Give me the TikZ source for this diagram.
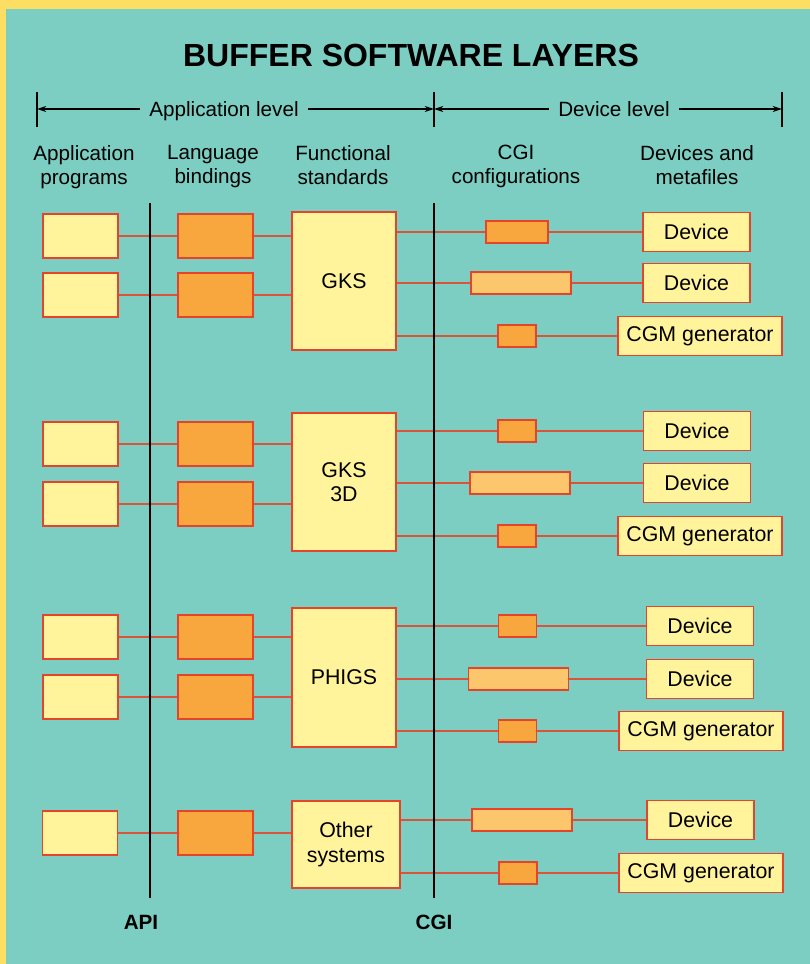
\documentclass[tikz,border=0pt]{standalone}
\usepackage{fontspec}
\setmainfont{Liberation Sans}
\usetikzlibrary{arrows.meta, positioning, calc}
\definecolor{BufTeal}{HTML}{7DCEC2}
\definecolor{BufYellow}{HTML}{FCDF62}
\definecolor{BufPale}{HTML}{FFF39B}
\definecolor{BufOrange}{HTML}{F8A63E}
\definecolor{BufLight}{HTML}{FCC76C}
\definecolor{BufRed}{HTML}{E5432A}
\definecolor{BufLine}{HTML}{D8553A}

\begin{document}
\begin{tikzpicture}[x=0.75pt, y=-0.75pt, >={Stealth[length=7pt, width=4.5pt]},
                lbl/.style={font=\fontsize{15.5}{18}\selectfont, align=center, inner sep=0pt},
                box/.style={rectangle, draw=BufRed, line width=1.1pt, inner sep=0pt, text centered, font=\fontsize{16}{18.5}\selectfont, align=center},
                appbox/.style={box, fill=BufPale, minimum width=56pt, minimum height=33pt},
                langbox/.style={box, fill=BufOrange, minimum width=56pt, minimum height=33pt},
                stdbox/.style={box, fill=BufPale, minimum width=78pt},
                cfgbox/.style={box, fill=BufOrange, minimum width=28.5pt, minimum height=16.5pt},
                cfglong/.style={box, fill=BufLight, minimum width=75pt, minimum height=16.5pt},
                devbox/.style={box, fill=BufPale, minimum width=80pt, minimum height=29pt},
                cgmbox/.style={box, fill=BufPale, minimum width=123pt, minimum height=29pt},
                link/.style={BufLine, line width=1.1pt},
                wall/.style={black, line width=1.5pt},
                tick/.style={black, line width=0.8pt},
                arrow/.style={->, black, line width=0.8pt}]
                \fill[BufYellow] (0,0) rectangle (810,964);
                \fill[BufTeal] (6,9) rectangle (810,964);
                \useasboundingbox (0,0) rectangle (810,964);

                \node[font=\bfseries\fontsize{24}{28}\selectfont] (title) at (411,55) {BUFFER SOFTWARE LAYERS};

                \coordinate (tkL) at (37,109);
                \coordinate (tkM) at (434,109);
                \coordinate (tkR) at (782,109);
                \node[lbl, inner xsep=7pt, anchor=base] (applvl) at (224,116) {Application level};
                \node[lbl, inner xsep=7pt, anchor=base] (devlvl) at (614,116) {Device level};
                \draw[tick] ($(tkL)+(0,-17)$) -- ($(tkL)+(0,18)$);
                \draw[tick] ($(tkM)+(0,-17)$) -- ($(tkM)+(0,18)$);
                \draw[tick] ($(tkR)+(0,-17)$) -- ($(tkR)+(0,18)$);
                \draw[arrow] (applvl.west |- tkL) -- (tkL);
                \draw[arrow] (applvl.east |- tkM) -- (tkM);
                \draw[arrow] (devlvl.west |- tkM) -- (tkM);
                \draw[arrow] (devlvl.east |- tkR) -- (tkR);

                \node[lbl, anchor=north] (h1) at (84,145) {Application\\programs};
                \node[lbl, anchor=north] (h2) at (213,145) {Language\\bindings};
                \node[lbl, anchor=north] (h3) at (343,145) {Functional\\standards};
                \node[lbl, anchor=north] (h4) at (516,145) {CGI\\configurations};
                \node[lbl, anchor=north] (h5) at (697,145) {Devices and\\metafiles};

                \node[appbox] (a1) at (80.5,236) {};
                \node[appbox] (a2) at (80.5,295) {};
                \node[langbox] (b1) at (215.5,236) {};
                \node[langbox] (b2) at (215.5,295) {};
                \node[stdbox, minimum height=103.5pt] (gks) at (344,281) {GKS};
                \node[cfgbox, minimum width=46.5pt] (c1) at (517,232) {};
                \node[devbox] (d1) at (696.5,232) {Device};
                \node[cfglong] (c2) at (521,283) {};
                \node[devbox] (d2) at (696.5,283) {Device};
                \node[cfgbox] (c3) at (517,336) {};
                \node[cgmbox] (d3) at (700,336) {CGM generator};

                \node[appbox] (a3) at (80.5,444) {};
                \node[appbox] (a4) at (80.5,504) {};
                \node[langbox] (b3) at (215.5,444) {};
                \node[langbox] (b4) at (215.5,504) {};
                \node[stdbox, minimum height=103.5pt] (gks3d) at (344,482) {GKS\\3D};
                \node[cfgbox] (c4) at (517,431) {};
                \node[devbox] (d4) at (697,431) {Device};
                \node[cfglong] (c5) at (520,483) {};
                \node[devbox] (d5) at (697,483) {Device};
                \node[cfgbox] (c6) at (517,536) {};
                \node[cgmbox] (d6) at (700,536) {CGM generator};

                \node[appbox] (a5) at (80.5,637) {};
                \node[appbox] (a6) at (80.5,697) {};
                \node[langbox] (b5) at (215.5,637) {};
                \node[langbox] (b6) at (215.5,697) {};
                \node[stdbox, minimum height=104pt] (phigs) at (344,677.5) {PHIGS};
                \node[cfgbox] (c7) at (517.5,626) {};
                \node[devbox] (d7) at (700,626) {Device};
                \node[cfglong] (c8) at (518.5,679) {};
                \node[devbox] (d8) at (700,679) {Device};
                \node[cfgbox] (c9) at (517.5,731) {};
                \node[cgmbox] (d9) at (701,731) {CGM generator};

                \node[appbox] (a7) at (80,833) {};
                \node[langbox] (b7) at (215.5,833) {};
                \node[stdbox, minimum width=81pt, minimum height=65pt] (other) at (346,844.5) {Other\\systems};
                \node[cfglong] (c10) at (522,820) {};
                \node[devbox] (d10) at (700.5,820) {Device};
                \node[cfgbox] (c11) at (518,873) {};
                \node[cgmbox] (d11) at (701,873) {CGM generator};

                \draw[link] (a1) -- (b1);
                \draw[link] (a2) -- (b2);
                \draw[link] (b1) -- (b1 -| gks.west);
                \draw[link] (b2) -- (b2 -| gks.west);
                \draw[link] (gks.east |- c1) -- (c1) -- (d1);
                \draw[link] (gks.east |- c2) -- (c2) -- (d2);
                \draw[link] (gks.east |- c3) -- (c3) -- (d3);

                \draw[link] (a3) -- (b3);
                \draw[link] (a4) -- (b4);
                \draw[link] (b3) -- (b3 -| gks3d.west);
                \draw[link] (b4) -- (b4 -| gks3d.west);
                \draw[link] (gks3d.east |- c4) -- (c4) -- (d4);
                \draw[link] (gks3d.east |- c5) -- (c5) -- (d5);
                \draw[link] (gks3d.east |- c6) -- (c6) -- (d6);

                \draw[link] (a5) -- (b5);
                \draw[link] (a6) -- (b6);
                \draw[link] (b5) -- (b5 -| phigs.west);
                \draw[link] (b6) -- (b6 -| phigs.west);
                \draw[link] (phigs.east |- c7) -- (c7) -- (d7);
                \draw[link] (phigs.east |- c8) -- (c8) -- (d8);
                \draw[link] (phigs.east |- c9) -- (c9) -- (d9);

                \draw[link] (a7) -- (b7);
                \draw[link] (b7) -- (b7 -| other.west);
                \draw[link] (other.east |- c10) -- (c10) -- (d10);
                \draw[link] (other.east |- c11) -- (c11) -- (d11);

                \coordinate (apiTop) at (150,203);
                \coordinate (apiBot) at (150,898);
                \coordinate (cgiTop) at (434,203);
                \coordinate (cgiBot) at (434,898);
                \draw[wall] (apiTop) -- (apiBot);
                \draw[wall] (cgiTop) -- (cgiBot);
                \node[font=\bfseries\fontsize{15.5}{18}\selectfont] (api) at (141,922) {API};
                \node[font=\bfseries\fontsize{15.5}{18}\selectfont] (cgi) at (434,922) {CGI};
            \end{tikzpicture}
\end{document}
